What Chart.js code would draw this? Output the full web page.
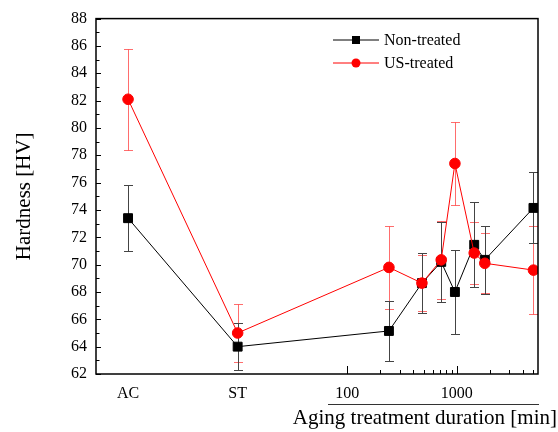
<!DOCTYPE html>
<html>
<head>
<meta charset="utf-8">
<script src="https://cdn.jsdelivr.net/npm/chart.js@4.4.0/dist/chart.umd.min.js"></script>
<style>
  html, body { margin: 0; padding: 0; background: #fff; }
  canvas { display: block; }
</style>
</head>
<body>
<canvas id="myChart" width="558" height="432"></canvas>
<script>
// conditions: AC and ST are as-cast / solution treated, the rest are aging times in minutes
var conditions = ['AC', 'ST', 240, 480, 720, 960, 1440, 1800, 5000];
var nonTreated = [73.4, 64.0, 65.15, 68.65, 70.2, 68.0, 71.45, 70.35, 74.15];
var nonTreatedErr = [2.4, 1.7, 2.2, 2.2, 2.9, 3.05, 3.1, 2.5, 2.6];
var usTreated = [82.1, 65.0, 69.8, 68.65, 70.35, 77.4, 70.85, 70.1, 69.6];
var usTreatedErr = [3.7, 2.1, 3.05, 2.05, 2.85, 3.0, 2.27, 2.2, 3.2];
var yTicks = [62, 64, 66, 68, 70, 72, 74, 76, 78, 80, 82, 84, 86, 88];
var xMajor = [100, 1000];
var xMinor = [200, 300, 400, 500, 600, 700, 800, 900, 2000, 3000, 4000, 5000];

// AC and ST sit one decade apart to the left of the log time axis
var catPos = { 'AC': 1, 'ST': 10 };
function xPos(c) {
    return (typeof c === 'string') ? catPos[c] : c;
}
function toPoints(vals) {
    return vals.map(function (v, i) { return { x: xPos(conditions[i]), y: v }; });
}

var serif = "'Liberation Serif', 'Times New Roman', serif";

var errorBars = {
    id: 'errorBars',
    beforeDatasetsDraw: function (chart) {
        var ctx = chart.ctx;
        var ys = chart.scales.y;
        var errs = [nonTreatedErr, usTreatedErr];
        var cols = ['#444', 'rgba(255,60,60,0.75)'];
        [1, 0].forEach(function (d) {
            var meta = chart.getDatasetMeta(d);
            var vals = chart.data.datasets[d].data;
            ctx.save();
            ctx.strokeStyle = cols[d];
            ctx.lineWidth = 1;
            meta.data.forEach(function (pt, j) {
                var v = vals[j].y, e = errs[d][j];
                var x = Math.round(pt.x) + 0.5;
                var top = Math.round(ys.getPixelForValue(v + e)) + 0.5;
                var bot = Math.round(ys.getPixelForValue(v - e)) + 0.5;
                ctx.beginPath();
                ctx.moveTo(x, top); ctx.lineTo(x, bot);
                ctx.moveTo(x - 4.5, top); ctx.lineTo(x + 4.5, top);
                ctx.moveTo(x - 4.5, bot); ctx.lineTo(x + 4.5, bot);
                ctx.stroke();
            });
            ctx.restore();
        });
    }
};

var frame = {
    id: 'frame',
    afterDraw: function (chart) {
        var ctx = chart.ctx;
        var a = chart.chartArea;
        var xs = chart.scales.x, ys = chart.scales.y;
        ctx.save();
        ctx.strokeStyle = '#000';
        ctx.lineWidth = 1.5;
        ctx.strokeRect(a.left, a.top, a.right - a.left, a.bottom - a.top);
        ctx.lineWidth = 1;
        ctx.beginPath();
        yTicks.forEach(function (t, i) {
            var y = Math.round(ys.getPixelForValue(t)) + 0.5;
            ctx.moveTo(a.left, y); ctx.lineTo(a.left + 5, y);
            if (i < yTicks.length - 1) {
                var ym = Math.round(ys.getPixelForValue(t + 1)) + 0.5;
                ctx.moveTo(a.left, ym); ctx.lineTo(a.left + 3.5, ym);
            }
        });
        xMajor.forEach(function (t) {
            var x = Math.round(xs.getPixelForValue(t)) + 0.5;
            ctx.moveTo(x, a.bottom); ctx.lineTo(x, a.bottom - 8);
        });
        xMinor.forEach(function (t) {
            var x = Math.round(xs.getPixelForValue(t)) + 0.5;
            ctx.moveTo(x, a.bottom); ctx.lineTo(x, a.bottom - 4);
        });
        ctx.stroke();

        // x axis title sits under the log part only
        ctx.strokeStyle = '#333';
        ctx.beginPath();
        ctx.moveTo(328, 404.5); ctx.lineTo(539, 404.5);
        ctx.stroke();
        ctx.fillStyle = '#000';
        ctx.font = '21px ' + serif;
        ctx.textAlign = 'right';
        ctx.textBaseline = 'alphabetic';
        ctx.fillText('Aging treatment duration [min]', 557, 424);

        // legend: line through marker
        var ds = chart.data.datasets;
        ctx.font = '16px ' + serif;
        ctx.textAlign = 'left';
        ctx.textBaseline = 'middle';
        ds.forEach(function (d, i) {
            var y = 40 + i * 23;
            ctx.strokeStyle = d.borderColor;
            ctx.lineWidth = 1;
            ctx.beginPath();
            ctx.moveTo(333, y); ctx.lineTo(379, y);
            ctx.stroke();
            ctx.fillStyle = d.pointBackgroundColor;
            if (d.pointStyle === 'rect') {
                ctx.fillRect(352, y - 4, 8, 8);
            } else {
                ctx.beginPath();
                ctx.arc(356, y, 4.5, 0, Math.PI * 2);
                ctx.fill();
            }
            ctx.fillStyle = '#000';
            ctx.fillText(d.label, 384, y + 1);
        });
        ctx.restore();
    }
};

var ctx = document.getElementById('myChart').getContext('2d');
var chart = new Chart(ctx, {
    type: 'line',
    data: {
        datasets: [{
            label: 'Non-treated',
            data: toPoints(nonTreated),
            borderColor: '#000',
            backgroundColor: '#000',
            pointBackgroundColor: '#000',
            pointBorderColor: '#000',
            pointStyle: 'rect',
            pointRadius: 6.3,
            borderWidth: 1,
            order: 1
        }, {
            label: 'US-treated',
            data: toPoints(usTreated),
            borderColor: '#ff0000',
            backgroundColor: '#ff0000',
            pointBackgroundColor: '#ff0000',
            pointBorderColor: '#ff0000',
            pointStyle: 'circle',
            pointRadius: 5.3,
            borderWidth: 1,
            order: 0
        }]
    },
    options: {
        responsive: false,
        animation: false,
        layout: { padding: { top: 17, right: 20, left: 0, bottom: 0 } },
        plugins: {
            legend: { display: false },
            tooltip: { enabled: false }
        },
        scales: {
            x: {
                type: 'logarithmic',
                min: 0.51,
                max: 5500,
                afterBuildTicks: function (scale) {
                    scale.ticks = [1, 10].concat(xMajor).map(function (v) { return { value: v }; });
                },
                afterFit: function (scale) { scale.height = 58; },
                grid: { display: false, drawTicks: false },
                border: { display: false },
                ticks: {
                    autoSkip: false,
                    maxRotation: 0,
                    padding: 10,
                    color: '#000',
                    font: { family: serif, size: 16 },
                    callback: function (v) {
                        if (v === 1) return 'AC';
                        if (v === 10) return 'ST';
                        return String(v);
                    }
                }
            },
            y: {
                min: 62,
                max: 88,
                afterBuildTicks: function (scale) {
                    scale.ticks = yTicks.map(function (v) { return { value: v }; });
                },
                afterFit: function (scale) { scale.width = 96; },
                grid: { display: false, drawTicks: false },
                border: { display: false },
                ticks: {
                    padding: 9,
                    color: '#000',
                    font: { family: serif, size: 16 }
                },
                title: {
                    display: true,
                    text: 'Hardness [HV]',
                    color: '#000',
                    font: { family: serif, size: 21 },
                    padding: { top: 12, bottom: 0 }
                }
            }
        }
    },
    plugins: [errorBars, frame]
});
</script>
</body>
</html>
